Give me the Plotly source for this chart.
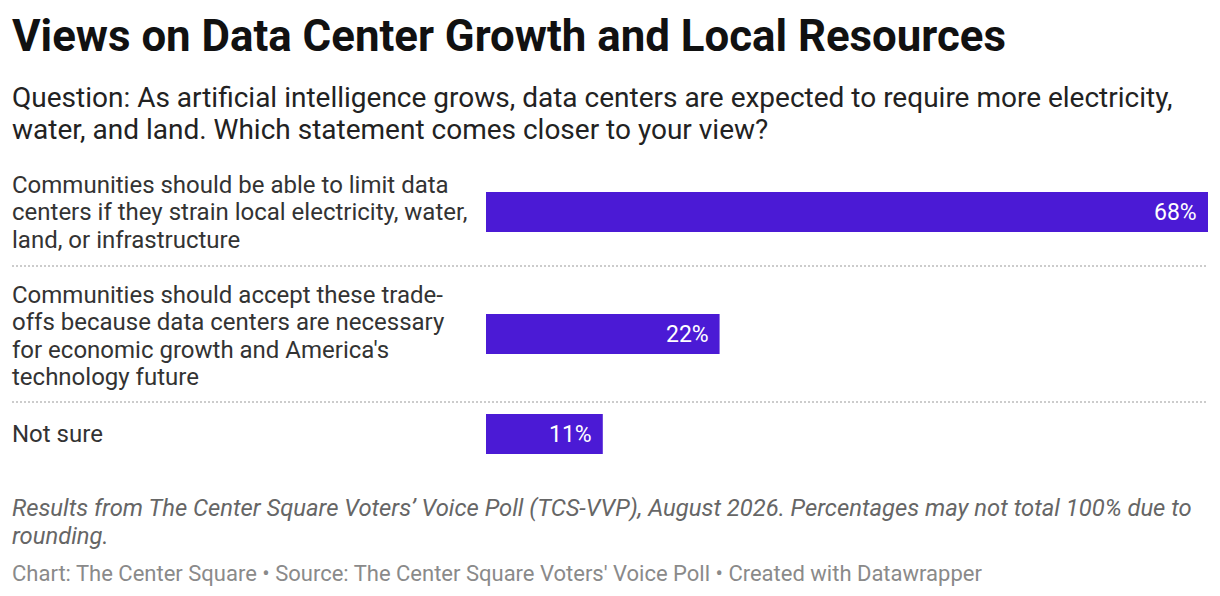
import plotly.graph_objects as go

# ---- data ----
categories = [
    "Communities should be able to limit data<br>centers if they strain local electricity, water,<br>land, or infrastructure",
    "Communities should accept these trade-<br>offs because data centers are necessary<br>for economic growth and America's<br>technology future",
    "Not sure",
]
values = [68, 22, 11]
value_labels = [f"{v}%" for v in values]

title = "Views on Data Center Growth and Local Resources"
subtitle_lines = [
    "Question: As artificial intelligence grows, data centers are expected to require more electricity,",
    "water, and land. Which statement comes closer to your view?",
]
notes_lines = [
    "Results from The Center Square Voters’ Voice Poll (TCS-VVP), August 2026. Percentages may not total 100% due to",
    "rounding.",
]
footer = "Chart: The Center Square • Source: The Center Square Voters' Voice Poll • Created with Datawrapper"

# ---- layout helpers ----
W, H = 1220, 596
FONT = "Roboto"
BAR_COLOR = "#4b1ad5"
LINE_H = 28
LABEL_LINE_H = 27.5
BAR_H = 40
PAD = 24
TOP = 158
LEFT = 12        # rule start
TEXT_LEFT = 10   # annotation anchor (plotly adds ~2px inner padding)
BAR_X0, BAR_X1 = 486, 1208

centers, bounds = [], []
y = TOP
for c in categories:
    n = c.count("<br>") + 1
    h = max(n * LINE_H, BAR_H) + PAD
    centers.append(y + h / 2)
    y += h
    bounds.append(y)

fig = go.Figure()
fig.add_trace(go.Bar(
    x=values, y=centers, orientation="h", width=BAR_H,
    marker=dict(color=BAR_COLOR, line=dict(width=0)),
    hoverinfo="skip",
))

ann = []
# row labels, one annotation per line for exact line spacing
for c, yc in zip(categories, centers):
    lines = c.split("<br>")
    n = len(lines)
    off = 2 if n > 3 else 0
    for i, ln in enumerate(lines):
        ann.append(dict(text=ln, x=TEXT_LEFT / W, xref="paper",
                        y=yc + off + (i - (n - 1) / 2) * LABEL_LINE_H, yref="y",
                        xanchor="left", yanchor="middle", align="left", showarrow=False,
                        font=dict(family=FONT, size=24, color="#333333")))

# value labels inside bar ends
for v, lab, yc in zip(values, value_labels, centers):
    ann.append(dict(text=lab, x=v, xref="x", y=yc, yref="y", xanchor="right", yanchor="middle",
                    xshift=-9, showarrow=False, font=dict(family=FONT, size=23, color="white")))

ann.append(dict(text=f"<b>{title}</b>", x=TEXT_LEFT / W, xref="paper", y=35.5, yref="y", xanchor="left",
                yanchor="middle", showarrow=False, font=dict(family=FONT, size=43.8, color="#111111")))
for i, ln in enumerate(subtitle_lines):
    ann.append(dict(text=ln, x=TEXT_LEFT / W, xref="paper", y=97 + 32 * i, yref="y", xanchor="left",
                    yanchor="middle", showarrow=False, font=dict(family=FONT, size=28, color="#222222")))
for i, ln in enumerate(notes_lines):
    ann.append(dict(text=f"<i>{ln}</i>", x=TEXT_LEFT / W, xref="paper", y=508 + 28 * i, yref="y",
                    xanchor="left", yanchor="middle", showarrow=False,
                    font=dict(family=FONT, size=23.8, color="#666666")))
ann.append(dict(text=footer, x=TEXT_LEFT / W, xref="paper", y=573, yref="y", xanchor="left",
                yanchor="middle", showarrow=False, font=dict(family=FONT, size=22, color="#8a8a8a")))

shapes = []
for b in bounds[:-1]:
    shapes.append(dict(type="line", xref="paper", yref="y", x0=LEFT / W, x1=BAR_X1 / W, y0=b, y1=b,
                       line=dict(color="#cccccc", width=2, dash="2px,2px")))

fig.update_layout(
    width=W, height=H, margin=dict(l=0, r=0, t=0, b=0, pad=0),
    paper_bgcolor="white", plot_bgcolor="white",
    showlegend=False, annotations=ann, shapes=shapes,
    xaxis=dict(domain=[BAR_X0 / W, BAR_X1 / W], range=[0, max(values)], visible=False, fixedrange=True),
    yaxis=dict(range=[H, 0], visible=False, fixedrange=True),
    font=dict(family=FONT),
)
fig.write_html("out.html", config={"displayModeBar": False},
               post_script="document.body.style.margin='0';document.body.style.overflow='hidden';")
